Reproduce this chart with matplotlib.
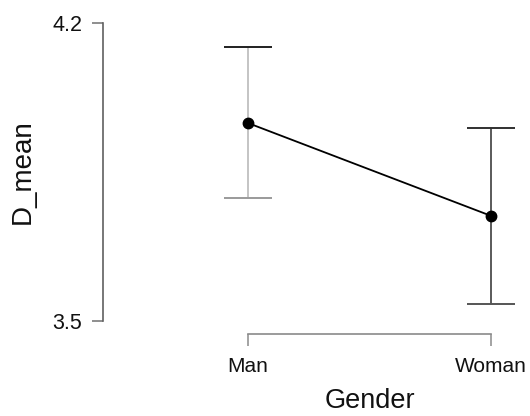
"""plot.py -- D_mean by Gender, descriptives plot (mean +/- CI)."""

import numpy as np
import matplotlib
matplotlib.use("Agg")
import matplotlib.pyplot as plt

# ── Data ──────────────────────────────────────────────────────────────────────

groups = ["Man", "Woman"]
means  = [3.965, 3.747]
lower  = [3.789, 3.540]
upper  = [4.144, 3.953]

y_ticks = [3.5, 4.2]

# ── Style ─────────────────────────────────────────────────────────────────────

plt.rcParams["font.family"] = ["Liberation Sans", "DejaVu Sans"]

vert_colors  = ["#c4c4c4", "#5a5a5a"]
upcap_colors = ["#202020", "#303030"]
locap_colors = ["#9a9a9a", "#555555"]
CAP = 0.1

# ── Plot ──────────────────────────────────────────────────────────────────────

fig = plt.figure(figsize=(5.30, 4.16), dpi=100)
W, H = 530, 416
ax = fig.add_axes([103 / W, 1 - 334 / H, 417 / W, (334 - 15) / H])

x = np.arange(len(groups))

for i in range(len(groups)):
    ax.vlines(x[i], lower[i], upper[i], color=vert_colors[i], lw=1.4, zorder=2)
    ax.hlines(upper[i], x[i] - CAP, x[i] + CAP, color=upcap_colors[i], lw=1.4, zorder=2)
    ax.hlines(lower[i], x[i] - CAP, x[i] + CAP, color=locap_colors[i], lw=1.4, zorder=2)

ax.plot(x, means, "-", color="black", lw=1.3, zorder=3)
ax.plot(x, means, "o", color="black", ms=7.5, zorder=4)

px = 0.7 / (321 - 23)
ax.set_ylim(3.5 - 13 * px, 4.2 + 8 * px)
ax.set_xlim(-145 / 243, 1 + 29 / 243)

ax.set_yticks(y_ticks)
ax.set_yticklabels([f"{v:.1f}" for v in y_ticks])
ax.set_xticks(x)
ax.set_xticklabels(groups)

for s in ["top", "right"]:
    ax.spines[s].set_visible(False)
ax.spines["left"].set_bounds(y_ticks[0], y_ticks[-1])
ax.spines["bottom"].set_bounds(x[0], x[-1])
ax.spines["left"].set_color("#606060")
ax.spines["bottom"].set_color("#8a8a8a")
ax.spines["left"].set_linewidth(1.2)
ax.spines["bottom"].set_linewidth(1.2)

ax.tick_params(axis="y", length=8, width=1.1, color="#707070", pad=7,
               labelsize=15.5, labelcolor="#111111")
ax.tick_params(axis="x", length=8.5, width=1.1, color="#8a8a8a", pad=8,
               labelsize=15, labelcolor="#111111")
# the first x tick is barely visible in the original
ax.xaxis.get_major_ticks()[0].tick1line.set_color("#f2f2f2")

ax.set_ylabel("D_mean", fontsize=20, color="#111111")
ax.set_xlabel("Gender", fontsize=19.5, color="#111111")
ax.xaxis.set_label_coords((370 - 103) / 417, -(401 - 334) / (334 - 15))
ax.yaxis.set_label_coords(-(103 - 23) / 417, (334 - 172) / (334 - 15))
ax.xaxis.label.set_va("center")
ax.yaxis.label.set_va("center")

fig.savefig("out.png", dpi=100)
plt.close(fig)
